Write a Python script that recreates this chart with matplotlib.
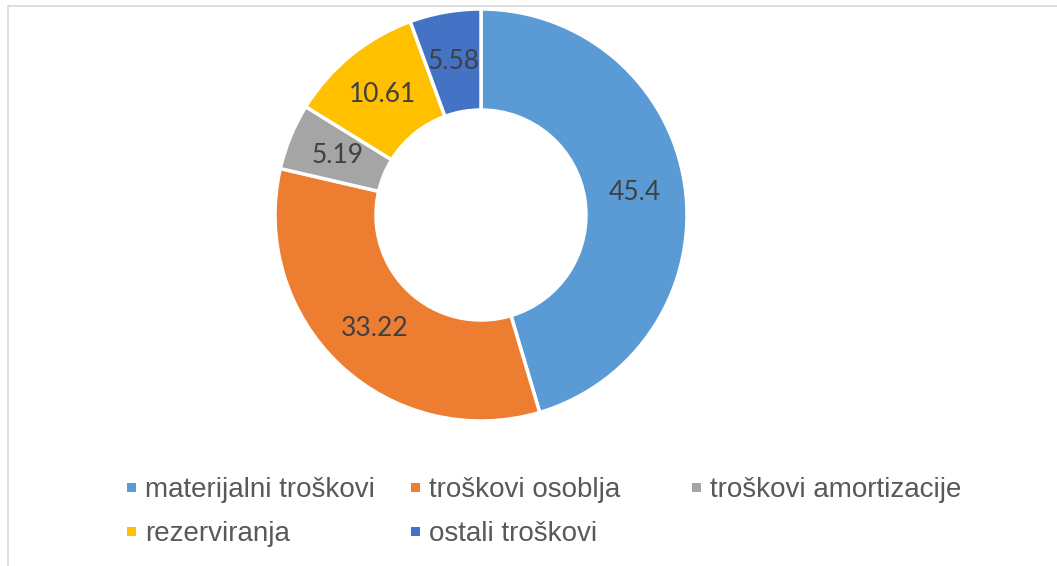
import numpy as np
import matplotlib.pyplot as plt
from matplotlib.patches import Rectangle

categories = ["materijalni troškovi", "troškovi osoblja", "troškovi amortizacije",
              "rezerviranja", "ostali troškovi"]
values = [45.4, 33.22, 5.19, 10.61, 5.58]
labels = ["45.4", "33.22", "5.19", "10.61", "5.58"]
colors = ["#5B9BD5", "#ED7D31", "#A5A5A5", "#FFC000", "#4472C4"]

W, H = 1057, 566
fig = plt.figure(figsize=(W / 100, H / 100), dpi=100)

# donut centred at (481, 215) px, outer radius 206 px
cx, cy, R = 481, 215, 206
ax = fig.add_axes([(cx - R) / W, (H - cy - R) / H, 2 * R / W, 2 * R / H])
inner = 105 / R
wedges, _ = ax.pie(values, colors=colors, startangle=90, counterclock=False,
                   radius=1.0,
                   wedgeprops=dict(width=1 - inner, edgecolor="white", linewidth=2.5))
ax.set_xlim(-1, 1)
ax.set_ylim(-1, 1)
ax.set_aspect("equal")
ax.axis("off")

mid_r = (1 + inner) / 2
for w, lab in zip(wedges, labels):
    ang = np.deg2rad((w.theta1 + w.theta2) / 2)
    ax.text(mid_r * np.cos(ang), mid_r * np.sin(ang), lab, ha="center", va="center",
            fontsize=19, color="#404040", family=["Lato", "DejaVu Sans"])

# legend, laid out like the original (3 columns, 2 rows)
col_x = [131, 415, 696]
row_y = [487, 531]
for i, (name, c) in enumerate(zip(categories, colors)):
    x = col_x[i % 3]
    y = row_y[i // 3]
    fig.add_artist(Rectangle(((x - 4.5) / W, (H - y - 4.5) / H), 9 / W, 9 / H,
                             transform=fig.transFigure, facecolor=c, edgecolor="none"))
    fig.text((x + 14) / W, (H - y) / H, name, ha="left", va="center_baseline",
             fontsize=20, color="#595959", family=["Liberation Sans", "DejaVu Sans"])

# chart area border (top and left visible)
fig.add_artist(Rectangle((7.5 / W, -0.1), 2, 1.1 - 5.5 / H, transform=fig.transFigure,
                         facecolor="none", edgecolor="#D9D9D9", linewidth=1.2))

fig.savefig("out.png", dpi=100)
